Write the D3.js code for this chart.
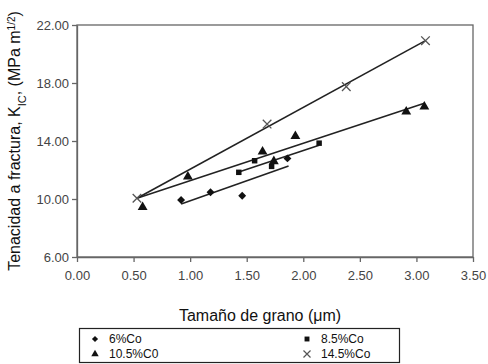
<!DOCTYPE html>
<html>
<head>
<meta charset="utf-8">
<script src="https://cdn.jsdelivr.net/npm/d3@7"></script>
<style>
  body { margin: 0; background: #fff; }
  svg { font-family: "Liberation Sans", Arial, sans-serif; }
</style>
</head>
<body>
<svg id="chart" width="488" height="364"></svg>
<script>
// --- data ---
const xTicks = [0, 0.5, 1, 1.5, 2, 2.5, 3, 3.5];
const yTicks = [6, 10, 14, 18, 22];

const co6 = [[0.92, 9.93], [1.18, 10.46], [1.46, 10.23], [1.86, 12.8]];
const co85 = [[1.43, 11.84], [1.57, 12.64], [1.72, 12.25], [2.14, 13.85]];
const co105 = [[0.58, 9.43], [0.98, 11.54], [1.64, 13.26], [1.74, 12.6], [1.93, 14.34], [2.91, 16.02], [3.07, 16.37]];
const co145 = [[0.53, 10.05], [1.68, 15.17], [2.38, 17.75], [3.08, 20.92]];

// fitted trend lines (start, end)
const fit6 = [[0.92, 9.66], [1.87, 12.28]];
const fit85 = [[1.43, 11.86], [2.14, 13.7]];
const fit105 = [[0.53, 10.05], [3.07, 16.6]];
const fit145 = [[0.53, 10.05], [3.08, 20.92]];

const legendLabels = ["6%Co", "8.5%Co", "10.5%C0", "14.5%Co"];

const margin = {top: 25, right: 15, bottom: 107, left: 77};
const width = 488 - margin.left - margin.right;
const height = 364 - margin.top - margin.bottom;

const svg = d3.select("#chart");
const chart = svg.append("g")
    .attr("transform", `translate(${margin.left},${margin.top})`);

const xScale = d3.scaleLinear().domain([0, 3.5]).range([0, width]);
const yScale = d3.scaleLinear().domain([6, 22]).range([height, 0]);

// frame
chart.append("rect")
    .attr("width", width)
    .attr("height", height)
    .attr("fill", "none")
    .attr("stroke", "#666")
    .attr("stroke-width", 1.3);

const xAxis = d3.axisBottom(xScale)
    .tickValues(xTicks)
    .tickSize(5)
    .tickSizeOuter(0)
    .tickPadding(5)
    .tickFormat(d3.format(".2f"));

const yAxis = d3.axisLeft(yScale)
    .tickValues(yTicks)
    .tickSize(5)
    .tickSizeOuter(0)
    .tickPadding(3)
    .tickFormat(d3.format(".2f"));

const xAxisG = chart.append("g")
    .attr("transform", `translate(0,${height})`)
    .call(xAxis);
const yAxisG = chart.append("g").call(yAxis);

[xAxisG, yAxisG].forEach(g => {
  g.select(".domain").attr("stroke", "#666").attr("stroke-width", 1.3);
  g.selectAll(".tick line").attr("stroke", "#666").attr("stroke-width", 1.3);
  g.selectAll(".tick text")
      .attr("fill", "#444")
      .style("font-size", "13px");
});
xAxisG.selectAll(".tick text").attr("dy", "1em");

// trend lines
const line = d3.line()
    .x(d => xScale(d[0]))
    .y(d => yScale(d[1]));

chart.append("g")
  .selectAll("path")
  .data([fit6, fit85, fit105, fit145])
  .join("path")
    .attr("d", line)
    .attr("fill", "none")
    .attr("stroke", "#222")
    .attr("stroke-width", 1.6);

// markers
const symDiamond = d3.symbol().type(d3.symbolDiamond2).size(40);
const symSquare = d3.symbol().type(d3.symbolSquare).size(30);
const symTriangle = d3.symbol().type(d3.symbolTriangle).size(42);
const symCross = d3.symbol().type(d3.symbolTimes).size(50);

function drawPoints(data, sym, isCross) {
  chart.append("g")
    .selectAll("path")
    .data(data)
    .join("path")
      .attr("transform", d => `translate(${xScale(d[0])},${yScale(d[1])})`)
      .attr("d", sym)
      .attr("fill", isCross ? "none" : "#111")
      .attr("stroke", isCross ? "#555" : "none")
      .attr("stroke-width", 1.3);
}
drawPoints(co6, symDiamond, false);
drawPoints(co85, symSquare, false);
drawPoints(co105, symTriangle, false);
drawPoints(co145, symCross, true);

// axis titles
svg.append("text")
    .attr("x", 260)
    .attr("y", 321)
    .attr("text-anchor", "middle")
    .attr("fill", "#111")
    .style("font-size", "16px")
    .text("Tamaño de grano (μm)");

const yTitle = svg.append("text")
    .attr("transform", "translate(20,141) rotate(-90)")
    .attr("text-anchor", "middle")
    .attr("fill", "#111")
    .style("font-size", "16px");
yTitle.append("tspan").text("Tenacidad a fractura, K");
yTitle.append("tspan").attr("baseline-shift", "sub").style("font-size", "11px").text("IC");
yTitle.append("tspan").text(", (MPa m");
yTitle.append("tspan").attr("baseline-shift", "super").style("font-size", "10px").text("1/2");
yTitle.append("tspan").text(")");

// legend
const legend = svg.append("g");
legend.append("rect")
    .attr("x", 79.5)
    .attr("y", 328.5)
    .attr("width", 320)
    .attr("height", 34)
    .attr("fill", "none")
    .attr("stroke", "#222")
    .attr("stroke-width", 1.2);

const legendItems = [
  {label: legendLabels[0], sym: symDiamond, cross: false, x: 95, y: 339},
  {label: legendLabels[1], sym: symSquare, cross: false, x: 307, y: 339},
  {label: legendLabels[2], sym: symTriangle, cross: false, x: 95, y: 354},
  {label: legendLabels[3], sym: symCross, cross: true, x: 307, y: 354}
];

const li = legend.selectAll("g.item")
  .data(legendItems)
  .join("g")
    .attr("class", "item")
    .attr("transform", d => `translate(${d.x},${d.y})`);

li.append("path")
    .attr("d", d => d.sym.size(d.cross ? 34 : 24)())
    .attr("fill", d => d.cross ? "none" : "#111")
    .attr("stroke", d => d.cross ? "#555" : "none")
    .attr("stroke-width", 1.2);

li.append("text")
    .attr("x", 14)
    .attr("dy", "0.35em")
    .attr("fill", "#111")
    .style("font-size", "12px")
    .text(d => d.label);
</script>
</body>
</html>
